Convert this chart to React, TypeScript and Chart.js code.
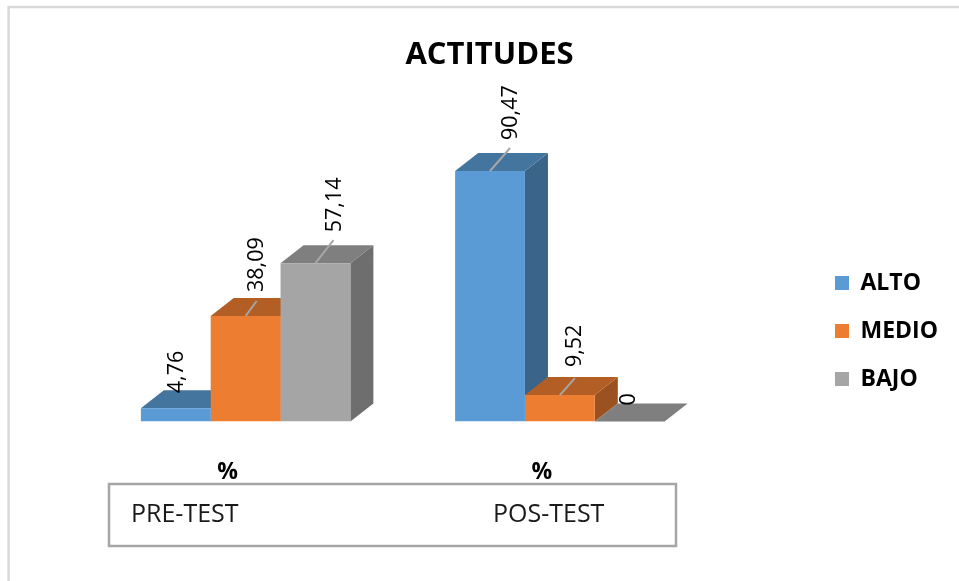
import React, { useEffect, useRef } from "react";
import { Chart, registerables } from "chart.js";

Chart.register(...registerables);

const TITLE = "ACTITUDES";
const CATEGORIES = ["%", "%"];
const GROUP_NAMES = ["PRE-TEST", "POS-TEST"];
const ALTO = [4.76, 90.47];
const MEDIO = [38.09, 9.52];
const BAJO = [57.14, 0];
const SERIES_NAMES = ["ALTO", "MEDIO", "BAJO"];

const FRONT = ["#5b9bd5", "#ed7d31", "#a5a5a5"];
const TOP_FACE = ["#44759f", "#b25e25", "#7f7f7f"];
const SIDE_FACE = ["#3a6589", "#9b5220", "#6e6e6e"];
const LEADER_COLOR = "#a6a6a6";
const FRAME_COLOR = "#d9d9d9";
const BOX_COLOR = "#a6a6a6";
const FONT = "'Open Sans'";

// Oblique extrusion of each column, in pixels.
const DEPTH_X = 23;
const DEPTH_Y = 18;

// Placement of each value label, by series then group: leader rise and label offset.
const LEADERS = [
  [null, { dx: 20, dy: 23, lx: 21, ly: 31 }],
  [{ dx: 11, dy: 15, lx: 11, ly: 24 }, { dx: 15, dy: 17, lx: 15, ly: 28 }],
  [{ dx: 18, dy: 23, lx: 19, ly: 31 }, null],
];
const PLAIN_LABEL = [
  [{ lx: 1, ly: 15 }, null],
  [null, null],
  [null, { lx: -1, ly: 16 }],
];

const fmt = (v: number) => String(v).replace(".", ",");

const poly = (ctx: CanvasRenderingContext2D, pts: number[][], fill: string) => {
  ctx.beginPath();
  pts.forEach(([x, y], i) => (i ? ctx.lineTo(x, y) : ctx.moveTo(x, y)));
  ctx.closePath();
  ctx.fillStyle = fill;
  ctx.fill();
};

// Top and side faces go under the fronts the library draws.
const extrusion = {
  id: "extrusion",
  beforeDatasetsDraw(chart: any) {
    const { ctx } = chart;
    chart.data.datasets.forEach((_: any, s: number) => {
      chart.getDatasetMeta(s).data.forEach((bar: any) => {
        const half = bar.width / 2;
        const l = bar.x - half;
        const r = bar.x + half;
        const t = bar.y;
        const b = bar.base;
        poly(ctx, [[r, t], [r + DEPTH_X, t - DEPTH_Y], [r + DEPTH_X, b - DEPTH_Y], [r, b]], SIDE_FACE[s]);
        poly(ctx, [[l, t], [l + DEPTH_X, t - DEPTH_Y], [r + DEPTH_X, t - DEPTH_Y], [r, t]], TOP_FACE[s]);
      });
    });
  },
};

// Leader lines and rotated value labels above the columns.
const valueLabels = {
  id: "valueLabels",
  afterDatasetsDraw(chart: any) {
    const { ctx } = chart;
    chart.data.datasets.forEach((ds: any, s: number) => {
      chart.getDatasetMeta(s).data.forEach((bar: any, g: number) => {
        const lead = LEADERS[s][g];
        const place = lead || PLAIN_LABEL[s][g];
        if (lead) {
          ctx.beginPath();
          ctx.moveTo(bar.x, bar.y);
          ctx.lineTo(bar.x + lead.dx, bar.y - lead.dy);
          ctx.strokeStyle = LEADER_COLOR;
          ctx.lineWidth = 2;
          ctx.stroke();
        }
        ctx.save();
        ctx.translate(bar.x + place!.lx, bar.y - place!.ly);
        ctx.rotate(-Math.PI / 2);
        ctx.font = `500 21.5px ${FONT}`;
        ctx.fillStyle = "#000";
        ctx.textAlign = "left";
        ctx.textBaseline = "middle";
        ctx.fillText(fmt(ds.data[g]), 0, 0);
        ctx.restore();
      });
    });
  },
};

// Outer frame plus the box that names the two tests.
const decorations = {
  id: "decorations",
  afterLayout(chart: any) {
    chart.legend.left = 810;
    chart.legend.right = 959;
    chart.legend.top = 246.5;
    chart.titleBlock.left = 0;
    chart.titleBlock.right = 979;
  },
  beforeDraw(chart: any) {
    const { ctx } = chart;
    ctx.strokeStyle = FRAME_COLOR;
    ctx.lineWidth = 2.5;
    ctx.beginPath();
    ctx.moveTo(8.6, 581);
    ctx.lineTo(8.6, 7);
    ctx.lineTo(959, 7);
    ctx.stroke();
  },
  afterDraw(chart: any) {
    const { ctx } = chart;
    ctx.strokeStyle = BOX_COLOR;
    ctx.lineWidth = 2.5;
    ctx.strokeRect(109, 484, 567, 62);
    ctx.font = `25px ${FONT}`;
    ctx.fillStyle = "#1a1a1a";
    ctx.textAlign = "left";
    ctx.textBaseline = "middle";
    ctx.fillText(GROUP_NAMES[0], 131, 515);
    ctx.fillText(GROUP_NAMES[1], 493, 515);
  },
};

export default function App() {
  const ref = useRef<HTMLCanvasElement>(null);

  useEffect(() => {
    const series = [ALTO, MEDIO, BAJO];
    const chart = new Chart(ref.current!, {
      type: "bar",
      data: {
        labels: CATEGORIES,
        datasets: series.map((data, i) => ({
          label: SERIES_NAMES[i],
          data,
          backgroundColor: FRONT[i],
          borderWidth: 0,
          categoryPercentage: 2 / 3,
          barPercentage: 1,
        })),
      },
      options: {
        responsive: false,
        animation: false,
        layout: { padding: { left: 88.5, right: 104, top: 0, bottom: 66 } },
        scales: {
          x: {
            grid: { display: false },
            border: { display: false },
            ticks: {
              color: "#000",
              font: { family: FONT, size: 23, weight: "bold" },
              padding: 29,
              labelOffset: -18,
              maxRotation: 0,
            },
          },
          y: { display: false, min: 0, max: 100 },
        },
        plugins: {
          title: {
            display: true,
            text: TITLE,
            color: "#000",
            font: { family: FONT, size: 31, weight: "bold" },
            padding: { top: 36.4, bottom: 71 },
          },
          legend: {
            position: "right",
            align: "start",
            labels: {
              boxWidth: 14,
              boxHeight: 14,
              padding: 25,
              color: "#000",
              font: { family: FONT, size: 23, weight: "bold" },
            },
          },
          tooltip: { enabled: false },
        },
      },
      plugins: [extrusion, valueLabels, decorations],
    } as any);
    return () => chart.destroy();
  }, []);

  return (
    <div style={{ position: "absolute", left: 0, top: 0, width: 959, height: 581, background: "#fff" }}>
      <canvas ref={ref} width={959} height={581} style={{ display: "block" }} />
    </div>
  );
}
